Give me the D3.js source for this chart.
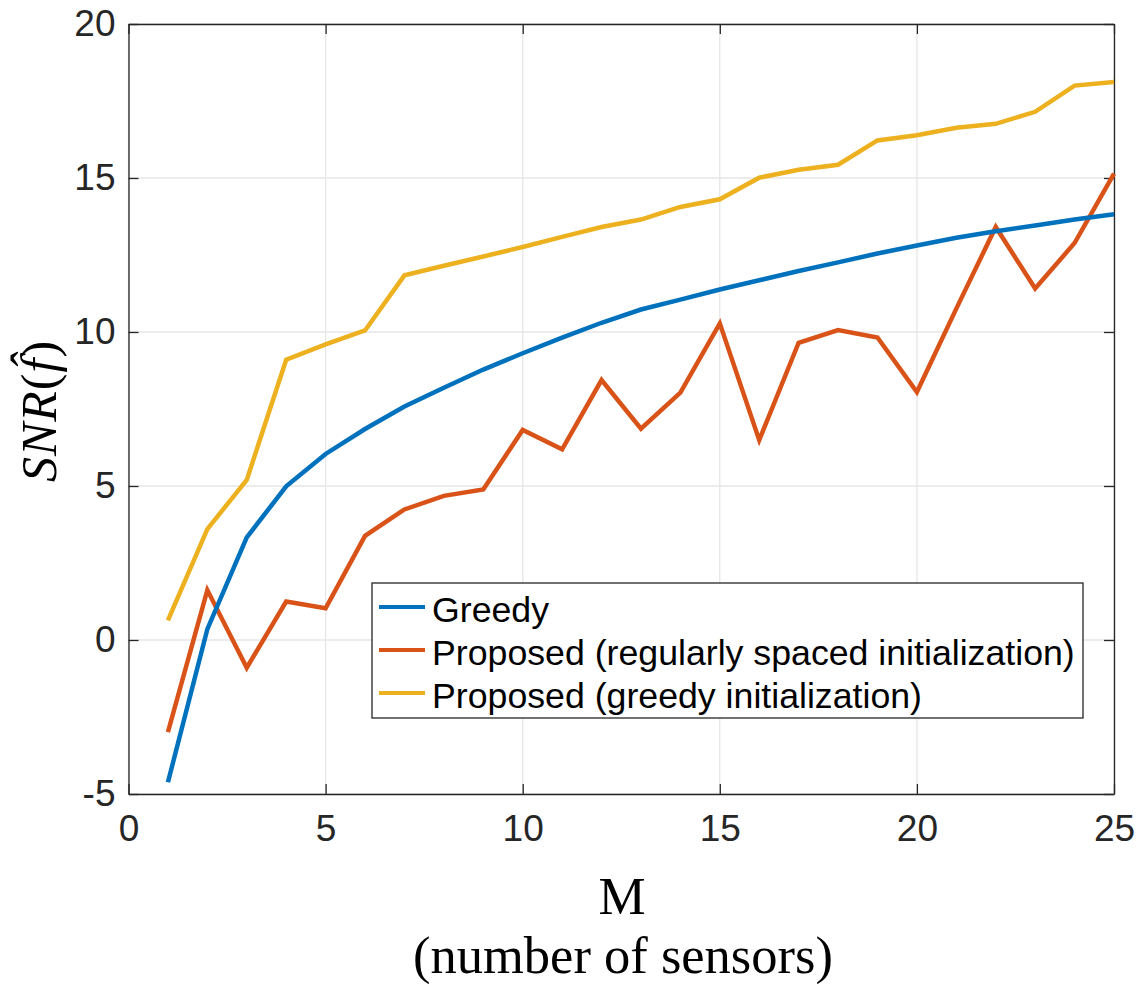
<!DOCTYPE html>
<html>
<head>
<meta charset="utf-8">
<script src="https://cdn.jsdelivr.net/npm/d3@7"></script>
<style>
  body { margin: 0; background: #fff; }
  #wrapper { width: 1137px; height: 987px; }
</style>
</head>
<body>
<div id="wrapper"></div>
<script>
const sensors = d3.range(1, 26);

const greedy = [-4.62, 0.35, 3.33, 4.99, 6.04, 6.85, 7.58, 8.19, 8.78, 9.31,
  9.82, 10.30, 10.73, 11.05, 11.38, 11.68, 11.98, 12.26, 12.55, 12.81,
  13.06, 13.27, 13.46, 13.65, 13.82];
const proposedRegular = [-2.99, 1.62, -0.9, 1.25, 1.03, 3.38, 4.24, 4.68, 4.89, 6.82,
  6.19, 8.44, 6.86, 8.03, 10.28, 6.49, 9.65, 10.06, 9.82, 8.05,
  10.76, 13.41, 11.41, 12.89, 15.14];
const proposedGreedy = [0.64, 3.6, 5.2, 9.1, 9.6, 10.05, 11.84, 12.15, 12.45, 12.76,
  13.09, 13.41, 13.65, 14.06, 14.31, 15.01, 15.27, 15.43, 16.22, 16.39,
  16.63, 16.76, 17.15, 18.0, 18.12];

const seriesNames = [
  "Greedy",
  "Proposed (regularly spaced initialization)",
  "Proposed (greedy initialization)",
];
const seriesColors = ["#0072BD", "#D95319", "#EDB120"];
const xTicks = [0, 5, 10, 15, 20, 25];
const yTicks = [-5, 0, 5, 10, 15, 20];

const dimensions = {
  width: 1137,
  height: 987,
  margin: { top: 24, right: 23, bottom: 193, left: 128.5 },
};
dimensions.boundedWidth = dimensions.width - dimensions.margin.left - dimensions.margin.right;
dimensions.boundedHeight = dimensions.height - dimensions.margin.top - dimensions.margin.bottom;

const svg = d3.select("#wrapper")
  .append("svg")
  .attr("width", dimensions.width)
  .attr("height", dimensions.height);

const bounds = svg.append("g")
  .attr("transform", `translate(${dimensions.margin.left},${dimensions.margin.top})`);

const xScale = d3.scaleLinear().domain([0, 25]).range([0, dimensions.boundedWidth]);
const yScale = d3.scaleLinear().domain([-5, 20]).range([dimensions.boundedHeight, 0]);

// grid
bounds.append("g")
  .selectAll("line")
  .data(xTicks)
  .join("line")
  .attr("x1", d => xScale(d)).attr("x2", d => xScale(d))
  .attr("y1", 0).attr("y2", dimensions.boundedHeight)
  .attr("stroke", "#e6e6e6").attr("stroke-width", 1.3);
bounds.append("g")
  .selectAll("line")
  .data(yTicks)
  .join("line")
  .attr("x1", 0).attr("x2", dimensions.boundedWidth)
  .attr("y1", d => yScale(d)).attr("y2", d => yScale(d))
  .attr("stroke", "#e6e6e6").attr("stroke-width", 1.3);

// axes, ticks pointing inward on all four sides
const tickFont = "'Liberation Sans', Arial, sans-serif";
const fmt = d => String(d);
bounds.append("g")
  .attr("transform", `translate(0,${dimensions.boundedHeight})`)
  .call(d3.axisBottom(xScale).tickValues(xTicks).tickFormat(fmt).tickSizeInner(-10).tickSizeOuter(0).tickPadding(21));
bounds.append("g")
  .call(d3.axisLeft(yScale).tickValues(yTicks).tickFormat(fmt).tickSizeInner(-10).tickSizeOuter(0).tickPadding(13));
bounds.append("g")
  .attr("transform", `translate(${dimensions.boundedWidth},0)`)
  .call(d3.axisRight(yScale).tickValues(yTicks).tickSizeInner(-10).tickSizeOuter(0).tickFormat(""));
bounds.append("g")
  .call(d3.axisTop(xScale).tickValues(xTicks).tickSizeInner(-10).tickSizeOuter(0).tickFormat(""));

bounds.selectAll(".domain").attr("stroke", "#262626").attr("stroke-width", 1.3);
bounds.selectAll(".tick line").attr("stroke", "#262626").attr("stroke-width", 1.3);
bounds.selectAll(".tick text")
  .attr("fill", "#262626")
  .style("font-family", tickFont)
  .style("font-size", "37px");

// lines (orange under blue under yellow, as drawn in the reference)
const line = d3.line()
  .x((d, i) => xScale(sensors[i]))
  .y(d => yScale(d));

const drawOrder = [
  { values: proposedRegular, color: seriesColors[1] },
  { values: greedy, color: seriesColors[0] },
  { values: proposedGreedy, color: seriesColors[2] },
];
bounds.append("g")
  .selectAll("path")
  .data(drawOrder)
  .join("path")
  .attr("d", d => line(d.values))
  .attr("fill", "none")
  .attr("stroke", d => d.color)
  .attr("stroke-width", 4.5);

// legend
const legend = svg.append("g").attr("transform", "translate(372,583)");
legend.append("rect")
  .attr("width", 711).attr("height", 135)
  .attr("fill", "#fff").attr("stroke", "#262626").attr("stroke-width", 1.3);
const rows = legend.selectAll("g")
  .data(seriesNames)
  .join("g")
  .attr("transform", (d, i) => `translate(0,${24 + i * 43})`);
rows.append("line")
  .attr("x1", 7).attr("x2", 53)
  .attr("stroke", (d, i) => seriesColors[i])
  .attr("stroke-width", 4);
rows.append("text")
  .attr("x", 60).attr("y", 15)
  .style("font-family", tickFont)
  .style("font-size", "35.7px")
  .attr("fill", "#000")
  .text(d => d);

// axis labels
const serif = "'Liberation Serif', 'Times New Roman', serif";
svg.append("text")
  .attr("x", 622).attr("y", 914)
  .attr("text-anchor", "middle")
  .style("font-family", serif)
  .style("font-size", "53px")
  .text("M");
svg.append("text")
  .attr("x", 623).attr("y", 973)
  .attr("text-anchor", "middle")
  .style("font-family", serif)
  .style("font-size", "52.5px")
  .text("(number of sensors)");

const yLabel = svg.append("text")
  .attr("transform", "translate(56,411) rotate(-90)")
  .attr("text-anchor", "middle")
  .style("font-family", serif)
  .style("font-size", "50px")
  .style("letter-spacing", "1px");
yLabel.append("tspan").style("font-style", "italic").text("SNR");
yLabel.append("tspan").text("(");
yLabel.append("tspan").style("font-style", "italic").text("f\u0302");
yLabel.append("tspan").text(")");
</script>
</body>
</html>
